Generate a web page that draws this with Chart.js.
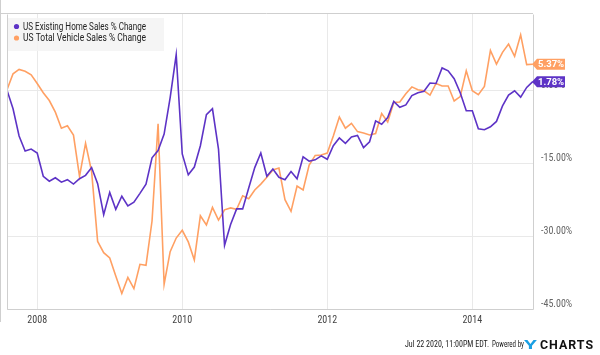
<!DOCTYPE html>
<html>
<head>
<meta charset="utf-8">
<script src="https://cdn.jsdelivr.net/npm/chart.js@4.4.1/dist/chart.umd.min.js"></script>
<style>
  html, body { margin: 0; padding: 0; background: #ffffff; }
  #c { display: block; }
</style>
</head>
<body>
<canvas id="c" width="600" height="355"></canvas>
<script>
// ---- Data (monthly, end of month, starting July 2007) ----
const startYear = 2007;
const startMonth = 7; // end of July 2007
const seriesNames = ["US Existing Home Sales % Change", "US Total Vehicle Sales % Change"];
const home = [0.0, -3.8, -9.4, -12.5, -12.1, -12.9, -17.7, -18.7, -18.0, -18.9, -18.4, -19.3,
  -18.2, -17.5, -15.9, -19.2, -25.6, -21.0, -24.5, -21.8, -23.8, -23.0, -21.2, -19.3,
  -13.9, -12.4, -9.0, -1.5, 7.3, -13.1, -17.4, -15.8, -11.4, -5.0, -3.8, -12.1,
  -31.9, -27.6, -24.4, -24.4, -20.1, -15.9, -12.9, -17.7, -16.2, -17.9, -18.4, -16.7,
  -18.2, -13.7, -14.6, -14.3, -13.5, -14.2, -11.4, -9.8, -10.9, -9.6, -9.3, -11.8,
  -10.6, -6.3, -7.0, -5.6, -2.3, -3.5, -3.0, -1.1, -0.5, -0.2, 1.5, 1.4,
  4.6, 4.0, 2.4, -0.5, -4.2, -4.2, -7.9, -8.1, -7.5, -6.4, -3.2, -1.0,
  -0.1, -1.4, 0.6, 1.78];
const vehicle = [0.1, 3.4, 4.3, 3.9, 3.2, 1.4, -0.5, -2.1, -4.5, -7.8, -7.3, -9.2,
  -17.7, -10.9, -16.7, -31.1, -33.4, -34.5, -38.2, -41.8, -38.5, -40.8, -35.8, -36.0,
  -26.9, -6.9, -39.9, -33.2, -30.4, -28.8, -31.2, -34.9, -25.8, -27.7, -24.1, -26.7,
  -24.6, -24.2, -24.5, -21.7, -22.3, -20.5, -19.3, -17.9, -16.4, -16.0, -22.5, -24.9,
  -19.7, -20.5, -15.4, -13.4, -13.3, -12.9, -9.4, -5.5, -7.8, -6.8, -8.5, -8.8,
  -9.2, -8.9, -4.8, -6.5, -2.5, -2.4, -0.7, 0.7, 0.1, -0.1, -1.0, 1.4,
  0.9, 0.9, -2.2, -1.3, 4.0, -0.1, -0.9, 0.8, 8.2, 5.4, 7.8, 9.5,
  7.0, 11.4, 5.3, 5.37];
const xTickYears = [2008, 2010, 2012, 2014];
const yTickValues = [-45, -30, -15, 0];
const footerText = "Jul 22 2020, 11:00PM EDT.";

// x position of each monthly point (fractional year at end of month)
const dates = home.map((_, i) => startYear + (startMonth + i) / 12);
const toPoints = arr => arr.map((v, i) => ({ x: dates[i], y: v }));

const PURPLE = '#5d33c6';
const ORANGE = '#ffa063';
const NARROW = "'Liberation Sans Narrow', 'Roboto Condensed', 'Liberation Sans', Arial, sans-serif";

const decorPlugin = {
  id: 'decor',
  beforeDatasetsDraw(chart) {
    const { ctx, chartArea: a } = chart;
    ctx.save();
    ctx.fillStyle = 'rgba(243,243,243,0.85)';
    ctx.fillRect(a.left, a.top + 4, 157, 33);
    ctx.restore();
  },
  afterDraw(chart) {
    const { ctx, chartArea: a, scales } = chart;
    ctx.save();
    // frame
    ctx.strokeStyle = '#cfcfcf';
    ctx.lineWidth = 1;
    ctx.beginPath();
    ctx.moveTo(a.left + 0.5, a.top + 0.5);
    ctx.lineTo(a.left + 0.5, a.bottom + 0.5);
    ctx.lineTo(a.right + 0.5, a.bottom + 0.5);
    ctx.lineTo(a.right + 0.5, a.top + 0.5);
    ctx.moveTo(0, a.top - 0.5);
    ctx.lineTo(a.right, a.top - 0.5);
    ctx.stroke();
    ctx.beginPath();
    ctx.moveTo(0.5, 0);
    ctx.lineTo(0.5, 322);
    ctx.stroke();

    // legend entries
    const colors = [PURPLE, ORANGE];
    ctx.textBaseline = 'middle';
    ctx.textAlign = 'left';
    ctx.font = "10px 'Roboto', sans-serif";
    seriesNames.forEach((name, k) => {
      const y = a.top + 12.5 + k * 11.5;
      ctx.fillStyle = colors[k];
      ctx.beginPath();
      ctx.arc(a.left + 9.5, y, 2.6, 0, Math.PI * 2);
      ctx.fill();
      ctx.fillStyle = '#222222';
      ctx.fillText(name, a.left + 16, y + 0.5, 123);
    });

    // value flags on the right
    const flags = [
      { v: vehicle[vehicle.length - 1], c: ORANGE },
      { v: home[home.length - 1], c: PURPLE }
    ];
    flags.forEach(f => {
      const y = scales.y.getPixelForValue(f.v);
      const x0 = a.right - 1;
      ctx.fillStyle = f.c;
      ctx.beginPath();
      ctx.moveTo(x0, y);
      ctx.lineTo(x0 + 5, y - 5.5);
      ctx.lineTo(x0 + 33, y - 5.5);
      ctx.lineTo(x0 + 33, y + 5.5);
      ctx.lineTo(x0 + 5, y + 5.5);
      ctx.closePath();
      ctx.fill();
      ctx.fillStyle = '#ffffff';
      ctx.font = "bold 9.5px 'Roboto', sans-serif";
      ctx.textAlign = 'left';
      ctx.textBaseline = 'middle';
      ctx.fillText(f.v.toFixed(2) + '%', x0 + 6, y + 0.5);
    });

    // footer
    ctx.textBaseline = 'middle';
    ctx.textAlign = 'left';
    ctx.fillStyle = '#222222';
    ctx.font = "9.5px " + NARROW;
    ctx.fillText(footerText, 405, 345, 84);
    ctx.fillText('Powered by', 492, 345, 32);
    ctx.save();
    ctx.translate(524, 345.5);
    ctx.scale(1.6, 1);
    ctx.font = "bold 13px 'Roboto', sans-serif";
    ctx.fillStyle = '#1a9fe3';
    ctx.fillText('Y', 0, 0);
    ctx.restore();
    ctx.fillStyle = '#111111';
    ctx.font = "bold 12.5px 'Roboto', sans-serif";
    if ('letterSpacing' in ctx) ctx.letterSpacing = '1px';
    ctx.fillText('CHARTS', 540, 345.5, 54);
    ctx.restore();
  }
};

new Chart(document.getElementById('c'), {
  type: 'line',
  data: {
    datasets: [
      { label: seriesNames[0], data: toPoints(home), borderColor: PURPLE, borderWidth: 1.6,
        pointRadius: 0, tension: 0, fill: false },
      { label: seriesNames[1], data: toPoints(vehicle), borderColor: ORANGE, borderWidth: 1.6,
        pointRadius: 0, tension: 0, fill: false }
    ]
  },
  options: {
    responsive: false,
    animation: false,
    devicePixelRatio: 1,
    layout: { padding: { left: 7, top: 3, right: 0, bottom: 0 } },
    plugins: { legend: { display: false }, tooltip: { enabled: false } },
    scales: {
      x: {
        type: 'linear',
        min: dates[0],
        max: 2014.837,
        afterFit(s) { s.height = 46; },
        afterBuildTicks(s) { s.ticks = xTickYears.map(v => ({ value: v })); },
        grid: { color: '#e9e9e9', drawTicks: false },
        border: { display: false },
        ticks: {
          padding: 5,
          autoSkip: false,
          maxRotation: 0,
          color: '#444444',
          font: { size: 10, family: NARROW },
          callback: v => String(v)
        }
      },
      y: {
        position: 'right',
        min: -45,
        max: 15.7,
        afterFit(s) { s.width = 67; },
        afterBuildTicks(s) { s.ticks = yTickValues.map(v => ({ value: v })); },
        grid: { color: '#e9e9e9', drawTicks: false },
        border: { display: false },
        ticks: {
          padding: 8,
          labelOffset: -5,
          color: '#666666',
          font: { size: 10, family: NARROW },
          callback: v => v.toFixed(2) + '%'
        }
      }
    }
  },
  plugins: [decorPlugin]
});
</script>
</body>
</html>
